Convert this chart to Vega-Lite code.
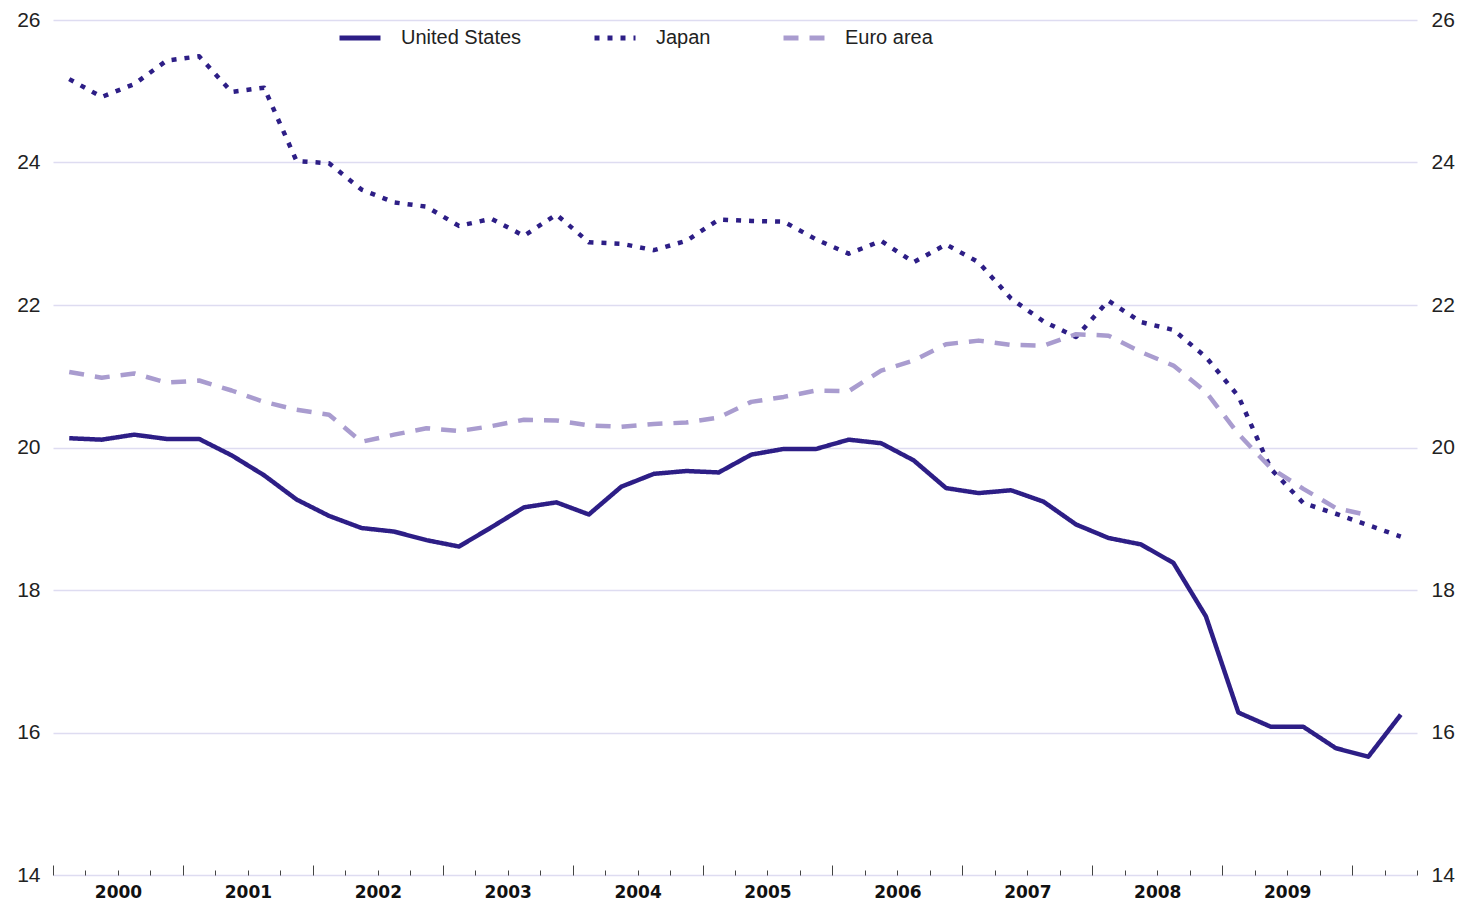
{
  "$schema": "https://vega.github.io/schema/vega-lite/v6.json",
  "width": 1364,
  "height": 855,
  "autosize": {"type": "none"},
  "padding": {"left": 53, "top": 20, "right": 44, "bottom": 29},
  "background": "white",
  "config": {"view": {"stroke": null}, "font": "Liberation Sans"},
  "data": {"values": [
    {"s":"United States","q":0.5,"v":20.13},{"s":"United States","q":1.5,"v":20.11},{"s":"United States","q":2.5,"v":20.18},{"s":"United States","q":3.5,"v":20.12},
    {"s":"United States","q":4.5,"v":20.12},{"s":"United States","q":5.5,"v":19.89},{"s":"United States","q":6.5,"v":19.61},{"s":"United States","q":7.5,"v":19.27},
    {"s":"United States","q":8.5,"v":19.04},{"s":"United States","q":9.5,"v":18.87},{"s":"United States","q":10.5,"v":18.82},{"s":"United States","q":11.5,"v":18.70},
    {"s":"United States","q":12.5,"v":18.61},{"s":"United States","q":13.5,"v":18.88},{"s":"United States","q":14.5,"v":19.16},{"s":"United States","q":15.5,"v":19.23},
    {"s":"United States","q":16.5,"v":19.06},{"s":"United States","q":17.5,"v":19.45},{"s":"United States","q":18.5,"v":19.63},{"s":"United States","q":19.5,"v":19.67},
    {"s":"United States","q":20.5,"v":19.65},{"s":"United States","q":21.5,"v":19.90},{"s":"United States","q":22.5,"v":19.98},{"s":"United States","q":23.5,"v":19.98},
    {"s":"United States","q":24.5,"v":20.11},{"s":"United States","q":25.5,"v":20.06},{"s":"United States","q":26.5,"v":19.82},{"s":"United States","q":27.5,"v":19.43},
    {"s":"United States","q":28.5,"v":19.36},{"s":"United States","q":29.5,"v":19.40},{"s":"United States","q":30.5,"v":19.24},{"s":"United States","q":31.5,"v":18.92},
    {"s":"United States","q":32.5,"v":18.73},{"s":"United States","q":33.5,"v":18.64},{"s":"United States","q":34.5,"v":18.38},{"s":"United States","q":35.5,"v":17.63},
    {"s":"United States","q":36.5,"v":16.28},{"s":"United States","q":37.5,"v":16.08},{"s":"United States","q":38.5,"v":16.08},{"s":"United States","q":39.5,"v":15.78},
    {"s":"United States","q":40.5,"v":15.66},{"s":"United States","q":41.5,"v":16.25},
    {"s":"Japan","q":0.5,"v":25.17},{"s":"Japan","q":1.5,"v":24.92},{"s":"Japan","q":2.5,"v":25.10},{"s":"Japan","q":3.5,"v":25.43},
    {"s":"Japan","q":4.5,"v":25.49},{"s":"Japan","q":5.5,"v":24.99},{"s":"Japan","q":6.5,"v":25.05},{"s":"Japan","q":7.5,"v":24.02},
    {"s":"Japan","q":8.5,"v":23.99},{"s":"Japan","q":9.5,"v":23.62},{"s":"Japan","q":10.5,"v":23.44},{"s":"Japan","q":11.5,"v":23.38},
    {"s":"Japan","q":12.5,"v":23.11},{"s":"Japan","q":13.5,"v":23.21},{"s":"Japan","q":14.5,"v":22.97},{"s":"Japan","q":15.5,"v":23.27},
    {"s":"Japan","q":16.5,"v":22.88},{"s":"Japan","q":17.5,"v":22.86},{"s":"Japan","q":18.5,"v":22.77},{"s":"Japan","q":19.5,"v":22.90},
    {"s":"Japan","q":20.5,"v":23.20},{"s":"Japan","q":21.5,"v":23.18},{"s":"Japan","q":22.5,"v":23.17},{"s":"Japan","q":23.5,"v":22.92},
    {"s":"Japan","q":24.5,"v":22.72},{"s":"Japan","q":25.5,"v":22.90},{"s":"Japan","q":26.5,"v":22.60},{"s":"Japan","q":27.5,"v":22.85},
    {"s":"Japan","q":28.5,"v":22.60},{"s":"Japan","q":29.5,"v":22.09},{"s":"Japan","q":30.5,"v":21.77},{"s":"Japan","q":31.5,"v":21.55},
    {"s":"Japan","q":32.5,"v":22.06},{"s":"Japan","q":33.5,"v":21.76},{"s":"Japan","q":34.5,"v":21.65},{"s":"Japan","q":35.5,"v":21.27},
    {"s":"Japan","q":36.5,"v":20.72},{"s":"Japan","q":37.5,"v":19.70},{"s":"Japan","q":38.5,"v":19.22},{"s":"Japan","q":39.5,"v":19.07},
    {"s":"Japan","q":40.5,"v":18.91},{"s":"Japan","q":41.5,"v":18.75},
    {"s":"Euro area","q":0.5,"v":21.06},{"s":"Euro area","q":1.5,"v":20.98},{"s":"Euro area","q":2.5,"v":21.04},{"s":"Euro area","q":3.5,"v":20.91},
    {"s":"Euro area","q":4.5,"v":20.94},{"s":"Euro area","q":5.5,"v":20.80},{"s":"Euro area","q":6.5,"v":20.64},{"s":"Euro area","q":7.5,"v":20.53},
    {"s":"Euro area","q":8.5,"v":20.46},{"s":"Euro area","q":9.5,"v":20.08},{"s":"Euro area","q":10.5,"v":20.18},{"s":"Euro area","q":11.5,"v":20.27},
    {"s":"Euro area","q":12.5,"v":20.23},{"s":"Euro area","q":13.5,"v":20.30},{"s":"Euro area","q":14.5,"v":20.39},{"s":"Euro area","q":15.5,"v":20.38},
    {"s":"Euro area","q":16.5,"v":20.31},{"s":"Euro area","q":17.5,"v":20.29},{"s":"Euro area","q":18.5,"v":20.33},{"s":"Euro area","q":19.5,"v":20.35},
    {"s":"Euro area","q":20.5,"v":20.42},{"s":"Euro area","q":21.5,"v":20.64},{"s":"Euro area","q":22.5,"v":20.71},{"s":"Euro area","q":23.5,"v":20.80},
    {"s":"Euro area","q":24.5,"v":20.79},{"s":"Euro area","q":25.5,"v":21.08},{"s":"Euro area","q":26.5,"v":21.22},{"s":"Euro area","q":27.5,"v":21.45},
    {"s":"Euro area","q":28.5,"v":21.50},{"s":"Euro area","q":29.5,"v":21.44},{"s":"Euro area","q":30.5,"v":21.43},{"s":"Euro area","q":31.5,"v":21.59},
    {"s":"Euro area","q":32.5,"v":21.57},{"s":"Euro area","q":33.5,"v":21.34},{"s":"Euro area","q":34.5,"v":21.15},{"s":"Euro area","q":35.5,"v":20.78},
    {"s":"Euro area","q":36.5,"v":20.19},{"s":"Euro area","q":37.5,"v":19.71},{"s":"Euro area","q":38.5,"v":19.42},{"s":"Euro area","q":39.5,"v":19.15},
    {"s":"Euro area","q":40.5,"v":19.05}
  ]},
  "encoding": {
    "x": {
      "field": "q", "type": "quantitative",
      "scale": {"domain": [0, 42], "nice": false, "zero": false},
      "axis": {
        "orient": "bottom",
        "title": null,
        "values": [0,1,2,3,4,5,6,7,8,9,10,11,12,13,14,15,16,17,18,19,20,21,22,23,24,25,26,27,28,29,30,31,32,33,34,35,36,37,38,39,40,41,42],
        "domain": false,
        "grid": false,
        "tickColor": "#444444",
        "tickWidth": 1,
        "tickSize": {"condition": {"test": "datum.value % 4 === 0 && datum.value <= 40", "value": -10}, "value": -5},
        "labelExpr": "(datum.value % 4 === 0 && datum.value < 40) ? toString(2000 + datum.value / 4) : ''",
        "labelOffset": 65,
        "labelPadding": 19,
        "labelFont": "DejaVu Sans",
        "labelFontWeight": "bold",
        "labelFontSize": 17,
        "labelColor": "#111111",
        "labelOverlap": false,
        "labelBound": false,
        "labelFlush": false
      }
    }
  },
  "layer": [
    {
      "mark": {"type": "line", "strokeWidth": 4.5, "strokeCap": "butt", "strokeJoin": "round"},
      "encoding": {
        "y": {
          "field": "v", "type": "quantitative",
          "scale": {"domain": [14, 26], "nice": false, "zero": false},
          "axis": {
            "orient": "left", "title": null,
            "values": [14,16,18,20,22,24,26],
            "grid": true, "gridColor": "#DEDCF1", "gridWidth": 1.3,
            "domain": false, "ticks": false,
            "labelPadding": 13, "labelFontSize": 21, "labelColor": "#222222", "labelFont": "Liberation Sans"
          }
        },
        "color": {
          "field": "s", "type": "nominal",
          "scale": {"domain": ["United States", "Japan", "Euro area"], "range": ["#2D1E86", "#2D1E86", "#A99CCF"]},
          "legend": {
            "orient": "none", "legendX": 284, "legendY": -5, "direction": "horizontal", "title": null,
            "symbolType": "stroke", "symbolSize": 1681, "symbolStrokeWidth": 5,
            "labelFontSize": 20, "labelFont": "Liberation Sans", "labelColor": "#222222",
            "labelOffset": 18, "columnPadding": 62, "padding": 0
          }
        },
        "strokeDash": {
          "field": "s", "type": "nominal",
          "scale": {"domain": ["United States", "Japan", "Euro area"], "range": [[1, 0], [5, 8], [15, 11]]},
          "legend": {
            "orient": "none", "legendX": 284, "legendY": -5, "direction": "horizontal", "title": null,
            "symbolType": "stroke", "symbolSize": 1681, "symbolStrokeWidth": 5,
            "labelFontSize": 20, "labelFont": "Liberation Sans", "labelColor": "#222222",
            "labelOffset": 18, "columnPadding": 62, "padding": 0
          }
        }
      }
    },
    {
      "mark": {"type": "line", "strokeOpacity": 0},
      "encoding": {
        "y": {
          "field": "v", "type": "quantitative",
          "scale": {"domain": [14, 26], "nice": false, "zero": false},
          "axis": {
            "orient": "right", "title": null,
            "values": [14,16,18,20,22,24,26],
            "grid": false, "domain": false, "ticks": false,
            "labelPadding": 14, "labelFontSize": 21, "labelColor": "#222222", "labelFont": "Liberation Sans"
          }
        },
        "detail": {"field": "s", "type": "nominal"}
      }
    }
  ],
  "resolve": {"scale": {"y": "independent"}}
}
